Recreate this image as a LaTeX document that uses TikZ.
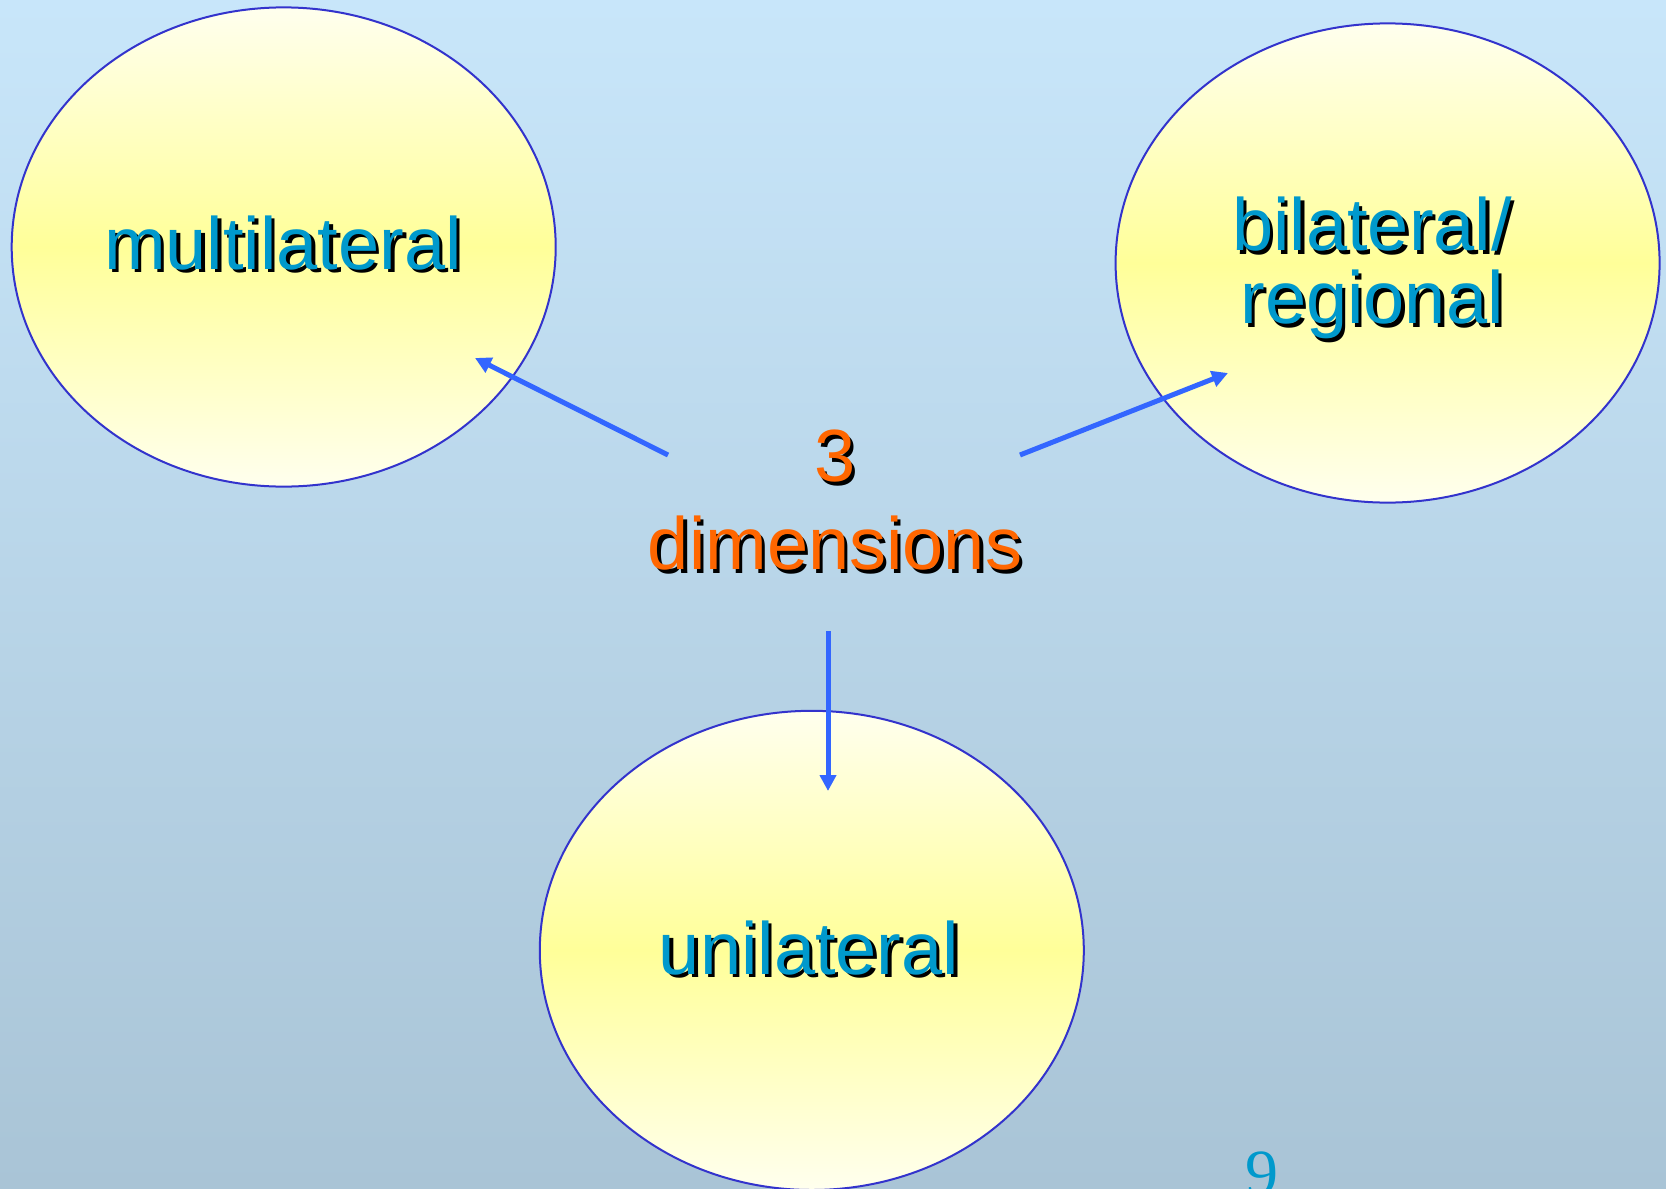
\documentclass[tikz,border=0pt]{standalone}
\usepackage{fontspec}
\setmainfont{Liberation Sans}
\newfontfamily\pagenumfont{Liberation Serif}
\usetikzlibrary{arrows.meta,shapes.geometric}
\definecolor{bgtop}{HTML}{C8E6FA}
\definecolor{bgbot}{HTML}{A9C4D6}
\definecolor{ovaledge}{HTML}{3333CC}
\definecolor{ovalmid}{HTML}{FFFF99}
\definecolor{ovalpale}{HTML}{FFFFEE}
\definecolor{termblue}{HTML}{0099CC}
\definecolor{dimorange}{HTML}{FF6600}
\definecolor{arrowblue}{HTML}{3366FF}
\newcommand{\shadowed}[2]{\makebox[0pt][l]{\hspace{1.7pt}\raisebox{-1.7pt}{\color{black}#2}}{\color{#1}#2}}
\tikzset{
  oval/.style={ellipse,draw=ovaledge,line width=1pt,minimum width=272pt,minimum height=239.6pt,
               inner sep=0pt,top color=ovalpale,bottom color=ovalpale,middle color=ovalmid},
  term/.style={font=\fontsize{37}{36.5}\selectfont,align=center,inner sep=0pt},
  dimtxt/.style={font=\fontsize{37}{44}\selectfont,align=center,inner sep=0pt},
  ar/.style={-{Triangle[length=8pt,width=8pt]},line width=2.5pt,draw=arrowblue}
}

\begin{document}
\begin{tikzpicture}[x=0.5pt,y=-0.5pt]
  \useasboundingbox (0,0) rectangle (1666,1189);
  \shade[top color=bgtop,bottom color=bgbot] (0,0) rectangle (1666,1189);
  % the three ovals
  \node[oval] (multi) at (283.7,247) {};
  \node[oval] (bi) at (1387.6,263) {};
  \node[oval] (uni) at (811.8,950.4) {};
  \node[term,anchor=base] (multitxt) at (283,269) {\shadowed{termblue}{multilateral}};
  \node[term] (bitxt) at (1372,270) {\shadowed{termblue}{bilateral/}\\\shadowed{termblue}{regional}};
  \node[term,anchor=base] (unitxt) at (809,974) {\shadowed{termblue}{unilateral}};
  \node[dimtxt] (dims) at (835,502) {\shadowed{dimorange}{3}\\\shadowed{dimorange}{dimensions}};
  % arrow ends
  \coordinate (fromMulti) at (668,455);
  \coordinate (toMulti) at (475,358);
  \coordinate (fromBi) at (1020,455);
  \coordinate (toBi) at (1228,373);
  \coordinate (fromUni) at (828,631);
  \coordinate (toUni) at (828,791);
  \draw[ar] (fromMulti) -- (toMulti);
  \draw[ar] (fromBi) -- (toBi);
  \draw[ar] (fromUni) -- (toUni);
  \node[font=\pagenumfont\fontsize{33}{33}\selectfont,text=termblue,anchor=base,inner sep=0pt] (pagenum) at (1262,1195) {9};
\end{tikzpicture}
\end{document}
